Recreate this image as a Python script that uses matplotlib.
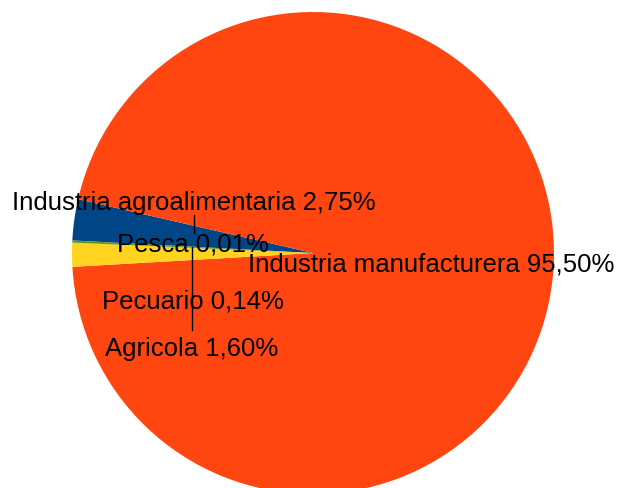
import matplotlib

matplotlib.use("Agg")
from matplotlib import pyplot as plt
from matplotlib import rcParams

rcParams["font.family"] = ["Liberation Sans", "DejaVu Sans"]

# data (order as drawn, clockwise)
sectors = [
    "Industria agroalimentaria",
    "Industria manufacturera",
    "Agricola",
    "Pecuario",
    "Pesca",
]
shares = [2.75, 95.50, 1.60, 0.14, 0.01]
colors = ["#004586", "#ff4510", "#ffd320", "#579d1c", "#7e0021"]

# label anchor points (pie radius = 1)
label_pos = [
    (-0.496, 0.207),
    (0.49, -0.046),
    (-0.504, -0.398),
    (-0.498, -0.203),
    (-0.50, 0.037),
]

fig = plt.figure(figsize=(6.18, 4.88), dpi=100)
ax = fig.add_axes([0, 0, 1, 1])
ax.pie(
    shares,
    colors=colors,
    startangle=177.0,
    counterclock=False,
    radius=1,
    wedgeprops=dict(linewidth=0),
)
ax.set_xlim(-1.2988, 1.2656)
ax.set_ylim(-0.975, 1.0498)
ax.set_aspect("equal")
ax.axis("off")

# leader lines
ax.plot([-0.494, -0.494], [0.158, 0.083], color="k", lw=1)
ax.plot([-0.502, -0.502], [0.025, -0.32], color="k", lw=1)

for name, val, (x, y) in zip(sectors, shares, label_pos):
    txt = f"{name} {val:.2f}%".replace(".", ",")
    ax.text(x, y, txt, ha="center", va="center", fontsize=18.5, color="k")

fig.savefig("out.png", dpi=100)
